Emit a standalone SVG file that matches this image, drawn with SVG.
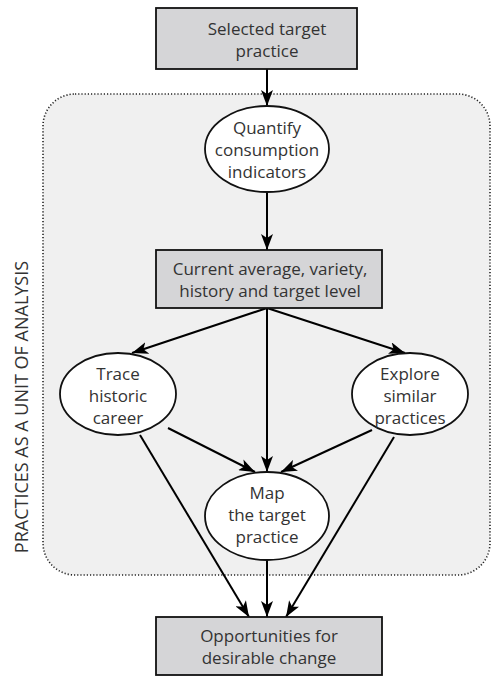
<svg xmlns="http://www.w3.org/2000/svg" width="495" height="677" viewBox="0 0 495 677">
<style>
  .box { fill: #d5d5d7; stroke: #111; stroke-width: 1.8; }
  .ell { fill: #ffffff; stroke: #111; stroke-width: 1.8; }
  .lbl { font-family: "Open Sans", "Noto Sans", "DejaVu Sans", sans-serif; font-size: 17px; fill: #333; text-anchor: middle; }
  .edge { stroke: #000; stroke-width: 2; fill: none; marker-end: url(#arr); }
</style>
<defs>
  <marker id="arr" viewBox="0 0 16 12" refX="16" refY="6" markerWidth="16" markerHeight="12" markerUnits="userSpaceOnUse" orient="auto">
    <path d="M0,0 L16,6 L0,12 L4,6 Z" fill="#000"/>
  </marker>
</defs>
<rect id="frame" x="43" y="94" width="447" height="481" rx="32" ry="32" fill="#f0f0f0" stroke="#222" stroke-width="1.6" stroke-dasharray="1.2 2"/>
<text class="lbl" transform="translate(28,407) rotate(-90)" style="font-size:18px">PRACTICES AS A UNIT  OF ANALYSIS</text>

<g id="connectors">
  <line class="edge" x1="267" y1="69" x2="267" y2="106"/>
  <line class="edge" x1="267" y1="192" x2="267" y2="250"/>
  <line class="edge" x1="267" y1="308" x2="132" y2="353"/>
  <line class="edge" x1="267" y1="308" x2="267" y2="472"/>
  <line class="edge" x1="267" y1="308" x2="405" y2="353"/>
  <line class="edge" x1="168" y1="428" x2="255" y2="472"/>
  <line class="edge" x1="372" y1="430" x2="281" y2="472"/>
  <line class="edge" x1="140" y1="435" x2="249" y2="617"/>
  <line class="edge" x1="267" y1="560" x2="267" y2="617"/>
  <line class="edge" x1="394" y1="437" x2="286" y2="617"/>
</g>

<g id="selected">
  <rect class="box" x="156" y="8" width="201" height="61"/>
  <text class="lbl" x="267" y="35">Selected target</text>
  <text class="lbl" x="267" y="57">practice</text>
</g>
<g id="quantify">
  <ellipse class="ell" cx="267" cy="149" rx="62" ry="43"/>
  <text class="lbl" x="267" y="134">Quantify</text>
  <text class="lbl" x="267" y="156">consumption</text>
  <text class="lbl" x="267" y="178">indicators</text>
</g>
<g id="current">
  <rect class="box" x="156" y="250" width="226" height="58"/>
  <text class="lbl" x="270" y="275">Current average, variety,</text>
  <text class="lbl" x="270" y="297">history and target level</text>
</g>
<g id="trace">
  <ellipse class="ell" cx="118" cy="394" rx="58" ry="41"/>
  <text class="lbl" x="118" y="380">Trace</text>
  <text class="lbl" x="118" y="402">historic</text>
  <text class="lbl" x="118" y="424">career</text>
</g>
<g id="explore">
  <ellipse class="ell" cx="410" cy="394" rx="58" ry="41"/>
  <text class="lbl" x="410" y="380">Explore</text>
  <text class="lbl" x="410" y="402">similar</text>
  <text class="lbl" x="410" y="424">practices</text>
</g>
<g id="map">
  <ellipse class="ell" cx="267" cy="516" rx="62" ry="44"/>
  <text class="lbl" x="267" y="499">Map</text>
  <text class="lbl" x="267" y="521">the target</text>
  <text class="lbl" x="267" y="543">practice</text>
</g>
<g id="opportunities">
  <rect class="box" x="156" y="617" width="226" height="58"/>
  <text class="lbl" x="269" y="642">Opportunities for</text>
  <text class="lbl" x="269" y="664">desirable change</text>
</g>
</svg>
